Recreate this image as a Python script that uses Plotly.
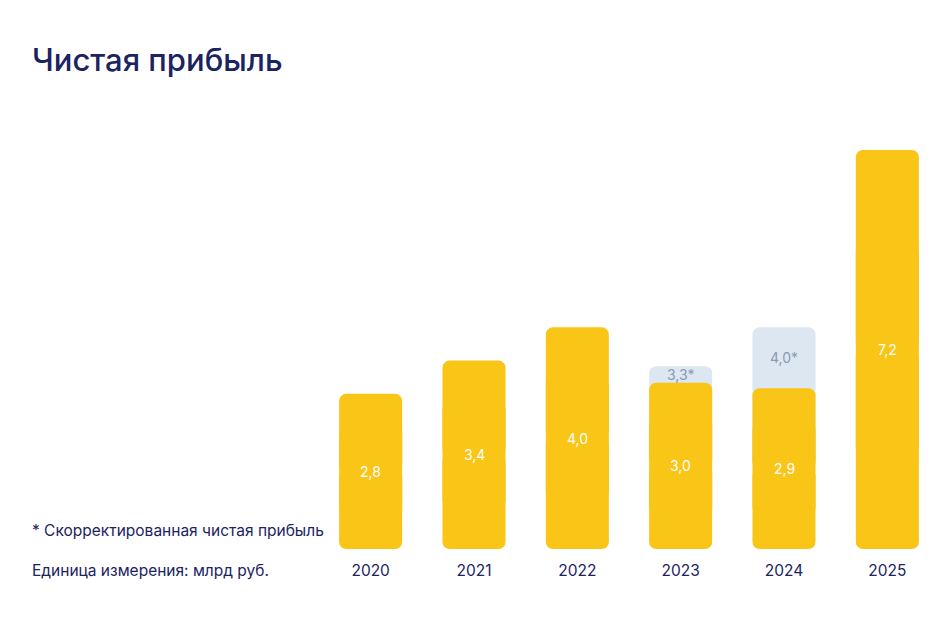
import plotly.graph_objects as go

years = ["2020", "2021", "2022", "2023", "2024", "2025"]
profit = [2.8, 3.4, 4.0, 3.0, 2.9, 7.2]
adjusted = [None, None, None, 3.3, 4.0, None]
profit_labels = ["2,8", "3,4", "4,0", "3,0", "2,9", "7,2"]
adjusted_labels = ["", "", "", "3,3*", "4,0*", ""]

W, H = 952, 620
OFF = 8  # page body offset
ML, MR, MT, MB = 319 - OFF, 13 + OFF, 150 - OFF, 71 + OFF
NAVY = "#1b2361"
YELLOW = "#F9C516"
GHOST = "#dde7f1"
GHOST_TXT = "#8c98b5"
FONT = "Inter"
BW = 0.61
RAD = 7

xpos = list(range(len(years)))

fig = go.Figure()
# corrected (ghost) bars, starting behind the middle of the main bar
fig.add_trace(go.Bar(
    x=xpos,
    y=[(a - p * 0.5) if a is not None else None for a, p in zip(adjusted, profit)],
    base=[p * 0.5 for p in profit],
    marker=dict(color=GHOST, cornerradius=RAD, line=dict(width=0)),
    width=BW, hoverinfo="skip", showlegend=False,
))
# main bars: upper part (rounded top), lower part (rounded bottom), square middle filler
fig.add_trace(go.Bar(
    x=xpos, y=[v * 0.5 for v in profit], base=[v * 0.5 for v in profit],
    marker=dict(color=YELLOW, cornerradius=RAD, line=dict(width=0)),
    width=BW, hoverinfo="skip", showlegend=False,
))
fig.add_trace(go.Bar(
    x=xpos, y=[-v * 0.5 for v in profit], base=[v * 0.5 for v in profit],
    marker=dict(color=YELLOW, cornerradius=RAD, line=dict(width=0)),
    width=BW, hoverinfo="skip", showlegend=False,
))
fig.add_trace(go.Bar(
    x=xpos, y=[v * 0.5 for v in profit], base=[v * 0.25 for v in profit],
    marker=dict(color=YELLOW, line=dict(width=0)),
    width=BW, hoverinfo="skip", showlegend=False,
))

for i, (p, lab) in enumerate(zip(profit, profit_labels)):
    fig.add_annotation(x=i, y=p / 2, text=lab, showarrow=False,
                       font=dict(color="white", size=14, family=FONT),
                       xref="x", yref="y")

for i, (a, p, lab) in enumerate(zip(adjusted, profit, adjusted_labels)):
    if a is not None:
        fig.add_annotation(x=i, y=(a + p) / 2, text=lab, showarrow=False,
                           font=dict(color=GHOST_TXT, size=14, family=FONT),
                           xref="x", yref="y")

def px_to_paper_x(px):
    return (px - OFF - ML) / (W - ML - MR)

def px_to_paper_y(py):
    return (H - MB - (py - OFF)) / (H - MT - MB)

fig.add_annotation(x=px_to_paper_x(30), y=px_to_paper_y(530), xref="paper", yref="paper",
                   text="* Скорректированная чистая прибыль", showarrow=False,
                   xanchor="left", yanchor="middle",
                   font=dict(color=NAVY, size=15.5, family=FONT))
fig.add_annotation(x=px_to_paper_x(30), y=px_to_paper_y(570), xref="paper", yref="paper",
                   text="Единица измерения: млрд руб.", showarrow=False,
                   xanchor="left", yanchor="middle",
                   font=dict(color=NAVY, size=15.5, family=FONT))

fig.update_layout(
    width=W, height=H,
    margin=dict(l=ML, r=MR, t=MT, b=MB),
    paper_bgcolor="white", plot_bgcolor="white",
    barmode="overlay",
    title=dict(text="Чистая прибыль", x=(32 - OFF) / W, xanchor="left", xref="container",
               y=1 - (60 - OFF) / H, yanchor="middle", yref="container",
               font=dict(color=NAVY, size=31, family=FONT, weight=500)),
    xaxis=dict(range=[-0.5, len(years) - 0.5], tickvals=xpos, ticktext=years,
               showgrid=False, showline=False, zeroline=False, ticks="",
               tickfont=dict(color=NAVY, size=15.5, family=FONT), ticklabelstandoff=10),
    yaxis=dict(range=[0, 7.2], visible=False, showgrid=False, zeroline=False),
)

fig.write_html("out.html")
